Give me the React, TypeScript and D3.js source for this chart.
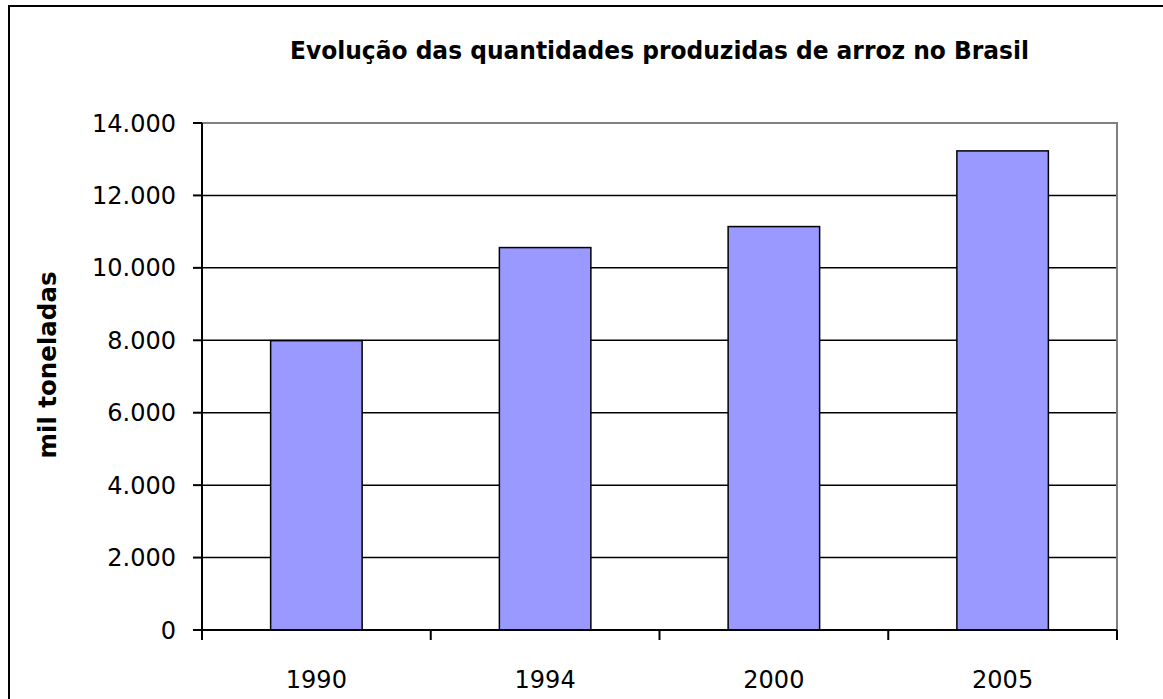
import React from "react";
import * as d3 from "d3";

const years = ["1990", "1994", "2000", "2005"];
const production = [7990, 10560, 11140, 13230];
const yTicks = [0, 2000, 4000, 6000, 8000, 10000, 12000, 14000];

const title = "Evolução das quantidades produzidas de arroz no Brasil";
const yLabel = "mil toneladas";

const W = 1163;
const H = 699;
const plot = { left: 202, top: 123, right: 1117, bottom: 630 };
const font = "'DejaVu Sans', sans-serif";
const condensed = "'DejaVu Sans Condensed', 'DejaVu Sans', sans-serif";

const fmt = (v: number) => d3.format(",")(v).replace(/,/g, ".");

export default function App() {
  const x = d3
    .scaleBand<string>()
    .domain(years)
    .range([plot.left, plot.right])
    .paddingInner(0.6)
    .paddingOuter(0.3);
  const y = d3.scaleLinear().domain([0, 14000]).range([plot.bottom, plot.top]);

  const step = x.step();
  const bounds = years.map((d) => (x(d) as number) - (step - x.bandwidth()) / 2);
  bounds.push(plot.right);

  return (
    <svg
      width={W}
      height={H}
      style={{ position: "absolute", left: 0, top: 0, background: "#fff" }}
      fontFamily={font}
    >
      <rect x={9} y={6} width={W + 20} height={H + 20} fill="#fff" stroke="#000" strokeWidth={2} />

      <text
        x={(plot.left + plot.right) / 2}
        y={59}
        textAnchor="middle"
        fontWeight="bold"
        fontSize={25}
        fontFamily={condensed}
        textLength={739}
        lengthAdjust="spacingAndGlyphs"
      >
        {title}
      </text>

      {/* grid lines */}
      {yTicks.slice(1, -1).map((t) => (
        <line key={t} x1={plot.left} x2={plot.right} y1={y(t)} y2={y(t)} stroke="#000" strokeWidth={1.5} />
      ))}
      {/* plot frame top/right */}
      <path
        d={`M${plot.left},${y(14000)}H${plot.right}V${plot.bottom}`}
        fill="none"
        stroke="#808080"
        strokeWidth={2}
      />

      {years.map((d, i) => (
        <rect
          key={d}
          x={x(d)}
          y={y(production[i])}
          width={x.bandwidth()}
          height={plot.bottom - y(production[i])}
          fill="#9999FF"
          stroke="#000"
          strokeWidth={1.5}
        />
      ))}

      {/* y axis */}
      <line x1={plot.left} x2={plot.left} y1={plot.top} y2={plot.bottom + 10} stroke="#000" strokeWidth={2} />
      {yTicks.map((t) => (
        <g key={t}>
          <line x1={plot.left - 9} x2={plot.left} y1={y(t)} y2={y(t)} stroke="#000" strokeWidth={2} />
          <text x={176} y={y(t)} dy="0.36em" textAnchor="end" fontSize={24}>
            {fmt(t)}
          </text>
        </g>
      ))}

      {/* x axis */}
      <line x1={plot.left - 9} x2={plot.right} y1={plot.bottom} y2={plot.bottom} stroke="#000" strokeWidth={2} />
      {bounds.map((b, i) => (
        <line key={i} x1={b} x2={b} y1={plot.bottom} y2={plot.bottom + 10} stroke="#000" strokeWidth={2} />
      ))}
      {years.map((d) => (
        <text key={d} x={(x(d) as number) + x.bandwidth() / 2} y={688} textAnchor="middle" fontSize={24}>
          {d}
        </text>
      ))}

      <text
        transform={`translate(56,365) rotate(-90)`}
        textAnchor="middle"
        fontWeight="bold"
        fontSize={24}
        fontFamily={condensed}
        textLength={187}
        lengthAdjust="spacingAndGlyphs"
      >
        {yLabel}
      </text>
    </svg>
  );
}
